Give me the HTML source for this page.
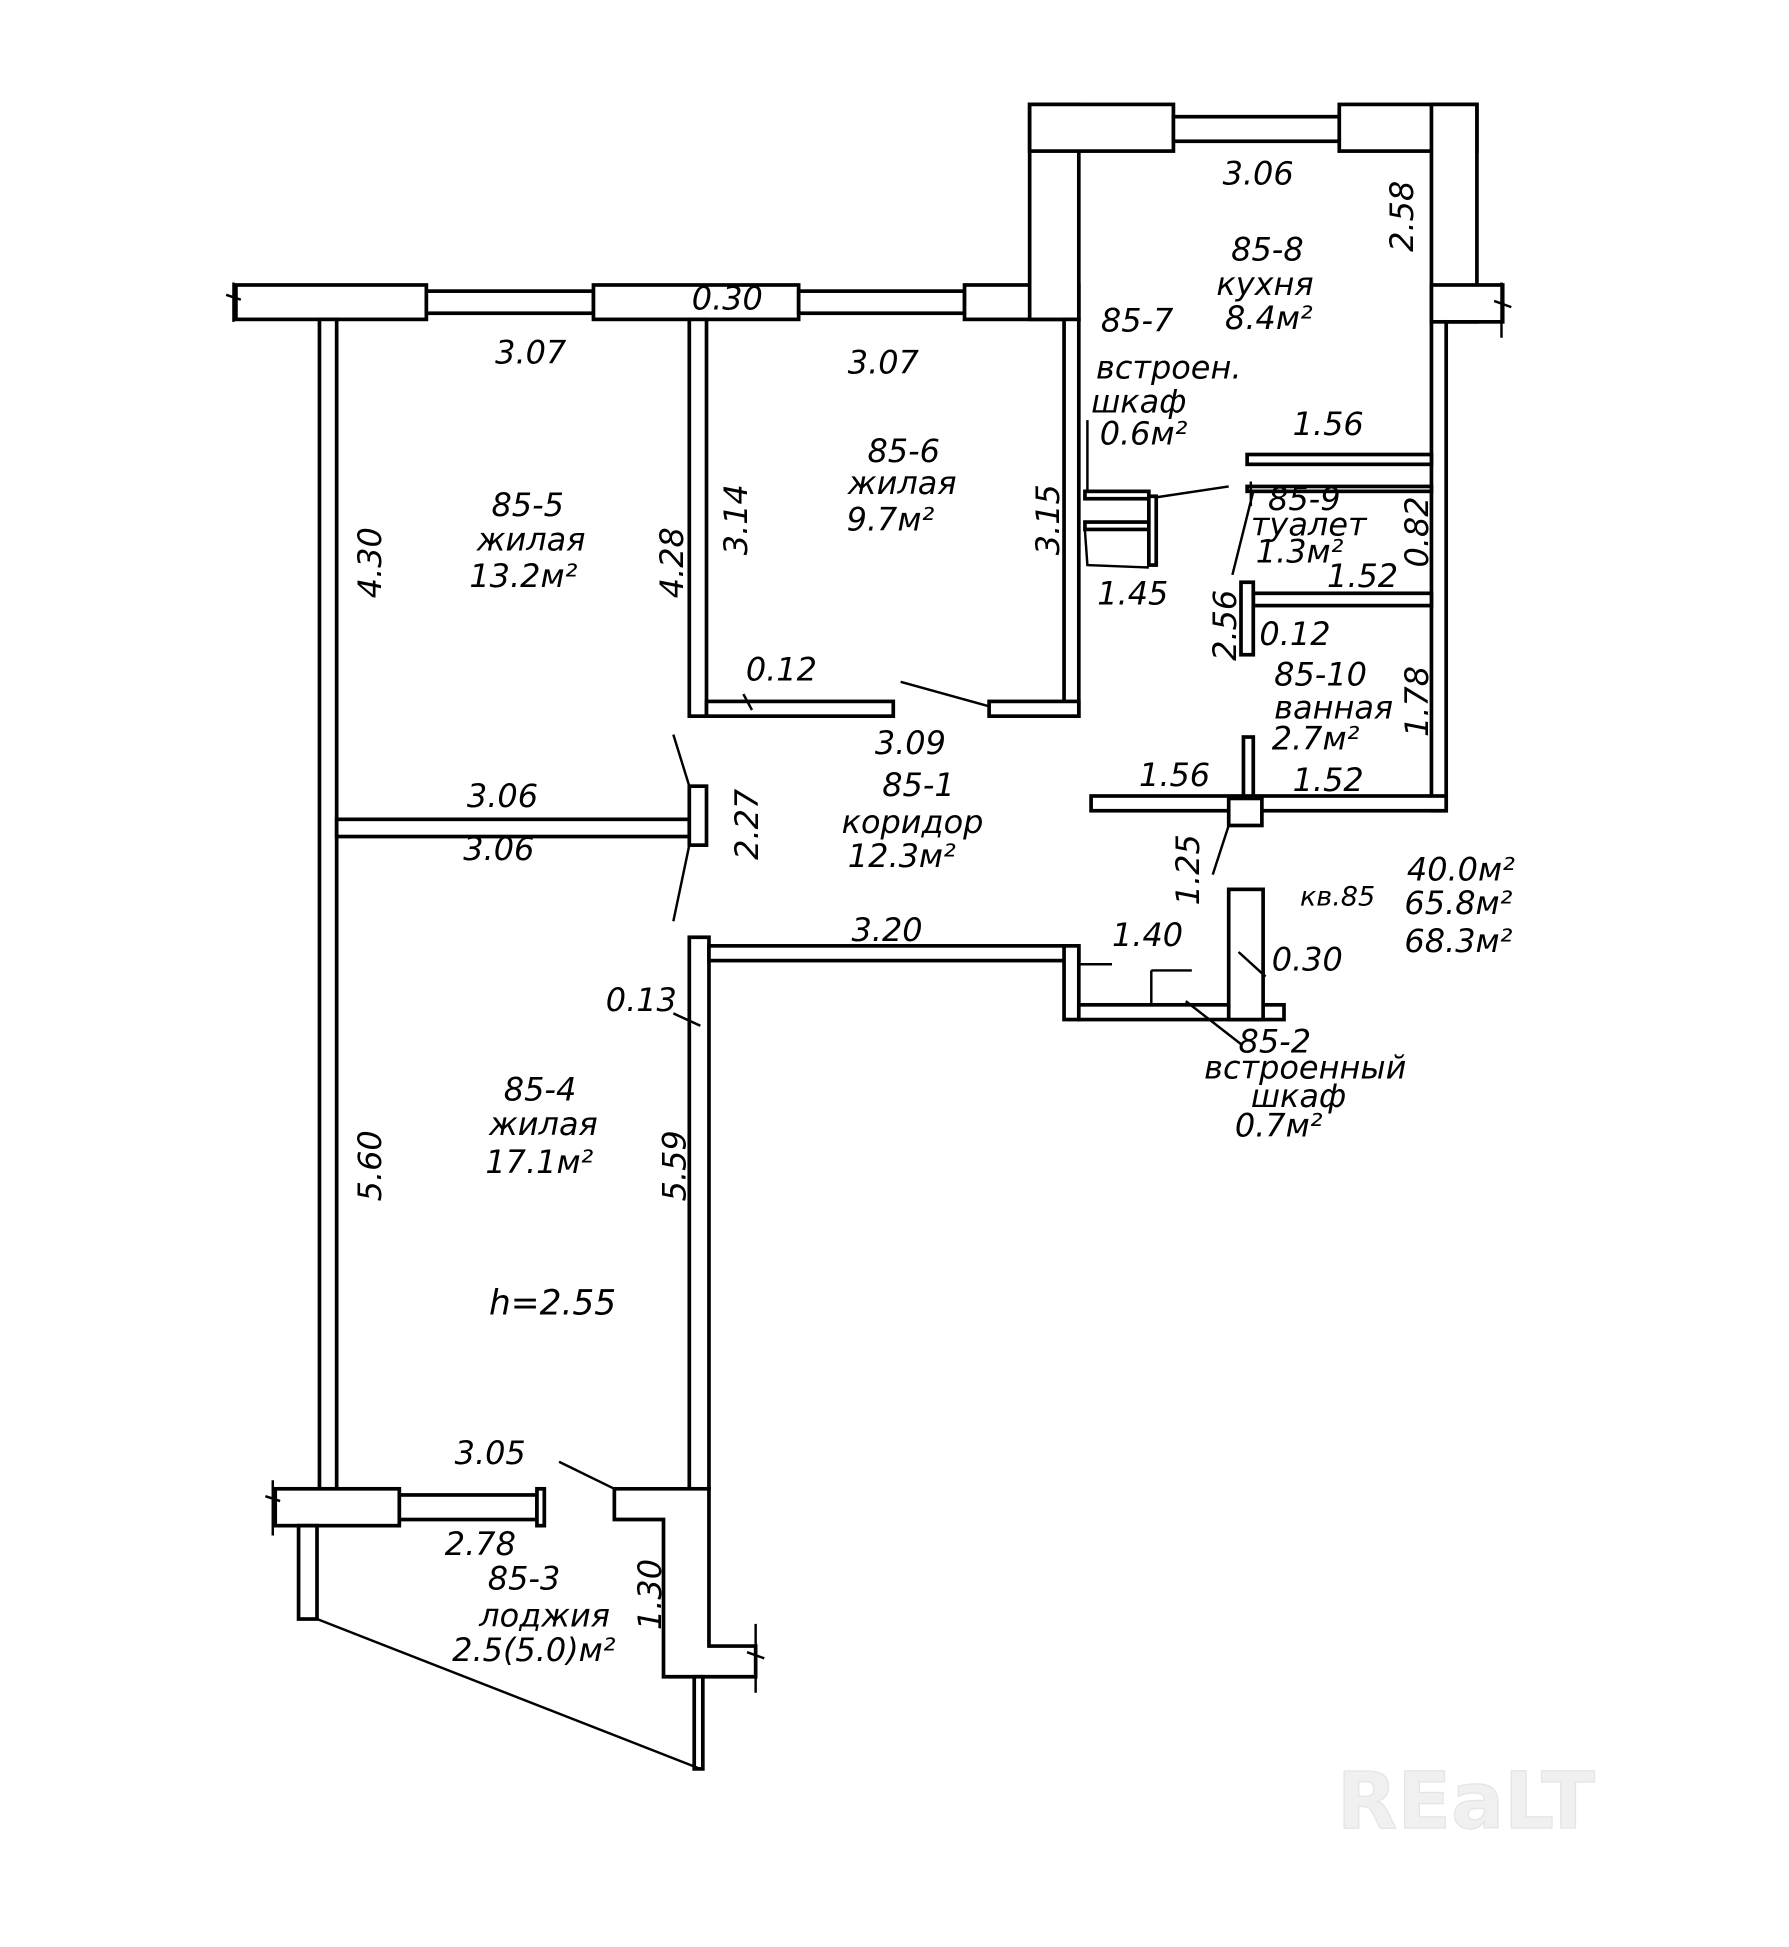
<!DOCTYPE html>
<html><head><meta charset="utf-8"><style>
html,body{margin:0;padding:0;background:#fff}
svg{display:block}
text{font-family:"DejaVu Sans","Liberation Sans",sans-serif;font-style:oblique;font-size:26px;fill:#000}
</style></head><body>
<svg width="1789" height="1947" viewBox="0 0 1456 1585" preserveAspectRatio="none" xmlns="http://www.w3.org/2000/svg">
<g fill="#fff" stroke="#000" stroke-width="3">
<rect x="192" y="232" width="155" height="28"/>
<rect x="347" y="237" width="136" height="18"/>
<rect x="483" y="232" width="167" height="28"/>
<rect x="650" y="237" width="135" height="18"/>
<rect x="785" y="232" width="93" height="28"/>
<rect x="838" y="85" width="40" height="175"/>
<rect x="838" y="85" width="117" height="38"/>
<rect x="955" y="95" width="135" height="20"/>
<rect x="1090" y="85" width="112" height="38"/>
<rect x="1165" y="85" width="37" height="177"/>
<rect x="1165" y="232" width="58" height="30"/>
<rect x="1165" y="262" width="12" height="398"/>
<rect x="260" y="260" width="14" height="952"/>
<rect x="561" y="260" width="14" height="323"/>
<rect x="866" y="260" width="12" height="323"/>
<rect x="575" y="571" width="152" height="12"/>
<rect x="805" y="571" width="73" height="12"/>
<rect x="274" y="667" width="287" height="14"/>
<rect x="561" y="640" width="14" height="48"/>
<rect x="561" y="763" width="16" height="449"/>
<rect x="577" y="770" width="301" height="12"/>
<rect x="866" y="770" width="12" height="60"/>
<rect x="878" y="818" width="167" height="12"/>
<rect x="1000" y="724" width="28" height="106"/>
<rect x="888" y="648" width="289" height="12"/>
<rect x="1000" y="650" width="27" height="22"/>
<rect x="1015" y="370" width="150" height="8"/>
<rect x="1020" y="483" width="145" height="10"/>
<rect x="1010" y="474" width="10" height="59"/>
<rect x="1012" y="600" width="8" height="48"/>
<rect x="1015" y="396" width="150" height="4"/>
<rect x="883" y="400" width="52" height="6"/>
<rect x="883" y="425" width="52" height="6"/>
<rect x="935" y="404" width="6" height="56"/>
<rect x="224" y="1212" width="101" height="30"/>
<rect x="325" y="1217" width="112" height="20"/>
<rect x="437" y="1212" width="6" height="30"/>
<path d="M500 1212 H577 V1340 H615 V1365 H540 V1237 H500 Z"/>
<rect x="243" y="1242" width="15" height="76"/>
<rect x="565" y="1365" width="7" height="75"/>
</g>
<g stroke="#000" stroke-width="2" fill="none">
<path d="M258 1318 L570 1440"/>
<path d="M190 230 V262 M184 240 L196 244 M1222 230 V275 M1216 245 L1230 250 M615 1322 V1378 M608 1345 L622 1350 M222 1205 V1250 M216 1218 L228 1222"/>
<path d="M733 555 L805 575 M548 598 L561 640 M561 688 L548 750 M940 405 L1000 396 M1020 400 L1003 468 M1000 672 L987 712 M878 785 L905 785 M937 790 V818 M937 790 H970 M965 815 L1010 850 M1008 775 L1030 795 M455 1190 L500 1212 M548 825 L570 835 M605 565 L612 578 M1018 392 V412 M883 432 L885 460 L935 462 M885 342 V400"/>
</g>
<text x="403" y="296">3.07</text>
<text x="563" y="252">0.30</text>
<text x="690" y="304">3.07</text>
<text x="995" y="150">3.06</text>
<text x="1002" y="212">85-8</text>
<text x="990" y="240">кухня</text>
<text x="997" y="268">8.4м²</text>
<text x="896" y="270">85-7</text>
<text x="892" y="308">встроен.</text>
<text x="888" y="336">шкаф</text>
<text x="895" y="362">0.6м²</text>
<text x="1052" y="354">1.56</text>
<text x="1032" y="415">85-9</text>
<text x="1018" y="436">туалет</text>
<text x="1022" y="458">1.3м²</text>
<text x="1080" y="478">1.52</text>
<text x="1025" y="525">0.12</text>
<text x="1037" y="558">85-10</text>
<text x="1037" y="585">ванная</text>
<text x="1035" y="610">2.7м²</text>
<text x="927" y="640">1.56</text>
<text x="1052" y="644">1.52</text>
<text x="893" y="492">1.45</text>
<text x="400" y="420">85-5</text>
<text x="388" y="448">жилая</text>
<text x="382" y="478">13.2м²</text>
<text x="706" y="376">85-6</text>
<text x="690" y="402">жилая</text>
<text x="689" y="432">9.7м²</text>
<text x="607" y="554">0.12</text>
<text x="712" y="614">3.09</text>
<text x="718" y="648">85-1</text>
<text x="685" y="678">коридор</text>
<text x="690" y="706">12.3м²</text>
<text x="380" y="657">3.06</text>
<text x="377" y="700">3.06</text>
<text x="693" y="766">3.20</text>
<text x="905" y="770">1.40</text>
<text x="1035" y="790">0.30</text>
<text x="1058" y="737" style="font-size:22px">кв.85</text>
<text x="1145" y="717">40.0м²</text>
<text x="1143" y="744">65.8м²</text>
<text x="1143" y="775">68.3м²</text>
<text x="1008" y="857">85-2</text>
<text x="980" y="878">встроенный</text>
<text x="1018" y="901">шкаф</text>
<text x="1005" y="925">0.7м²</text>
<text x="493" y="823">0.13</text>
<text x="410" y="896">85-4</text>
<text x="398" y="924">жилая</text>
<text x="395" y="955">17.1м²</text>
<text x="398" y="1070" style="font-size:28px">h=2.55</text>
<text x="370" y="1192">3.05</text>
<text x="362" y="1266">2.78</text>
<text x="397" y="1294">85-3</text>
<text x="390" y="1324">лоджия</text>
<text x="368" y="1352">2.5(5.0)м²</text>
<g>
<text transform="translate(310,487) rotate(-90)">4.30</text>
<text transform="translate(556,487) rotate(-90)">4.28</text>
<text transform="translate(608,452) rotate(-90)">3.14</text>
<text transform="translate(862,452) rotate(-90)">3.15</text>
<text transform="translate(1150,205) rotate(-90)">2.58</text>
<text transform="translate(1162,462) rotate(-90)">0.82</text>
<text transform="translate(1162,600) rotate(-90)">1.78</text>
<text transform="translate(1006,538) rotate(-90)">2.56</text>
<text transform="translate(617,700) rotate(-90)">2.27</text>
<text transform="translate(976,737) rotate(-90)">1.25</text>
<text transform="translate(310,978) rotate(-90)">5.60</text>
<text transform="translate(558,978) rotate(-90)">5.59</text>
<text transform="translate(538,1327) rotate(-90)">1.30</text>
</g>
<text x="1088" y="1488" style="font-size:64px;font-style:normal;font-weight:bold;fill:#f0f0f0;stroke:#e4e4e4;stroke-width:1">REaLT</text>
</svg>
</body></html>
